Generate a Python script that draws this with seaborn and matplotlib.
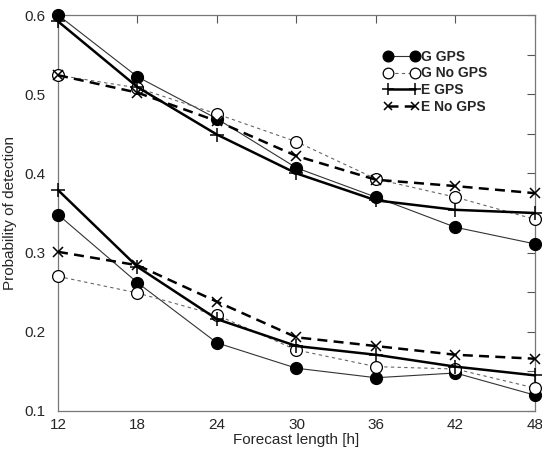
import numpy as np
import pandas as pd
import matplotlib
matplotlib.use("Agg")
import matplotlib.pyplot as plt
import seaborn as sns
from matplotlib.lines import Line2D

sns.set_style("white")
plt.rcParams['font.family'] = ['Liberation Sans', 'DejaVu Sans']

hours = [12, 18, 24, 30, 36, 42, 48]

# Upper set of curves
g_gps_hi = [0.600, 0.522, 0.469, 0.407, 0.370, 0.332, 0.311]
g_nogps_hi = [0.524, 0.508, 0.475, 0.440, 0.393, 0.370, 0.342]
e_gps_hi = [0.592, 0.509, 0.449, 0.400, 0.366, 0.354, 0.350]
e_nogps_hi = [0.524, 0.502, 0.466, 0.422, 0.392, 0.384, 0.375]

# Lower set of curves
g_gps_lo = [0.348, 0.262, 0.186, 0.154, 0.142, 0.148, 0.120]
g_nogps_lo = [0.270, 0.249, 0.221, 0.177, 0.156, 0.153, 0.129]
e_gps_lo = [0.379, 0.282, 0.216, 0.182, 0.171, 0.156, 0.145]
e_nogps_lo = [0.301, 0.284, 0.238, 0.193, 0.182, 0.171, 0.166]

series_names = ["G GPS", "G No GPS", "E GPS", "E No GPS"]

styles = {
    "G GPS": dict(color="#333333", lw=0.8, ls="-", marker="o", ms=8.5,
                  mfc="black", mec="black", mew=1.0),
    "G No GPS": dict(color="#666666", lw=0.8, ls=(0, (3, 3)), marker="o", ms=8.5,
                     mfc="white", mec="black", mew=0.9),
    "E GPS": dict(color="black", lw=1.8, ls="-", marker="+", ms=10,
                  mfc="black", mec="black", mew=1.1),
    "E No GPS": dict(color="black", lw=1.8, ls=(0, (4, 2.5)), marker="x", ms=7,
                     mfc="black", mec="black", mew=1.1),
}

rows = []
for grp, vals in [("hi", [g_gps_hi, g_nogps_hi, e_gps_hi, e_nogps_hi]),
                  ("lo", [g_gps_lo, g_nogps_lo, e_gps_lo, e_nogps_lo])]:
    for name, v in zip(series_names, vals):
        for h, p in zip(hours, v):
            rows.append(dict(group=grp, series=name, hour=h, prob=p))
df = pd.DataFrame(rows)

fig = plt.figure(figsize=(5.42, 4.51), dpi=100)
ax = fig.add_axes([0.107, 0.0887, 0.880, 0.878])

for grp in ["hi", "lo"]:
    for name in series_names:
        st = styles[name]
        sub = df[(df.group == grp) & (df.series == name)]
        sns.lineplot(data=sub, x="hour", y="prob", ax=ax, color=st["color"],
                     linewidth=st["lw"], linestyle=st["ls"], marker=st["marker"],
                     markersize=st["ms"], markerfacecolor=st["mfc"],
                     markeredgecolor=st["mec"], markeredgewidth=st["mew"],
                     clip_on=False, legend=False, zorder=3)

ax.set_xlim(12, 48)
ax.set_ylim(0.1, 0.6)
ax.set_xticks(hours)
ax.set_yticks([0.1, 0.2, 0.3, 0.4, 0.5, 0.6])
ax.set_yticklabels(["0.1", "0.2", "0.3", "0.4", "0.5", "0.6"])
ax.set_yticks(np.arange(0.15, 0.6, 0.1), minor=True)
ax.tick_params(axis="both", which="both", direction="in", top=True, right=True,
               labelsize=11, color="#555555")
ax.tick_params(axis="y", pad=9)
ax.tick_params(axis="x", pad=5)
ax.tick_params(which="major", length=6, width=0.8)
ax.tick_params(which="minor", length=6, width=0.8)
for sp in ax.spines.values():
    sp.set_color("#777777")
    sp.set_linewidth(0.9)

ax.set_xlabel("Forecast length [h]", fontsize=11, labelpad=1)
ax.set_ylabel("Probability of detection", fontsize=11, labelpad=5)

handles = []
for name in series_names:
    st = styles[name]
    handles.append(Line2D([], [], color=st["color"], lw=st["lw"], ls=st["ls"],
                          marker=st["marker"], ms=st["ms"] * 0.9, mfc=st["mfc"],
                          mec=st["mec"], mew=st["mew"]))
ax.legend(handles, series_names, loc="upper left", bbox_to_anchor=(0.668, 0.93),
          bbox_transform=ax.transAxes, frameon=False, numpoints=2, borderpad=0,
          handlelength=2.6, handletextpad=0.1, labelspacing=0.2,
          prop=dict(size=10, weight="bold"))

fig.savefig("out.png", dpi=100)
